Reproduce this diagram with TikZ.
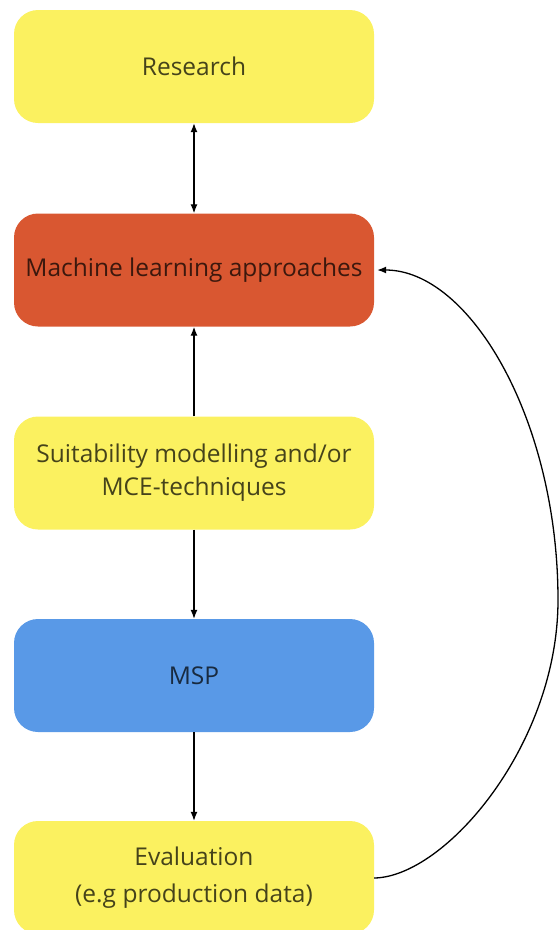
\documentclass[tikz,border=0pt]{standalone}
\usepackage{fontspec}
\setmainfont{Open Sans}
\usetikzlibrary{arrows.meta}
\definecolor{boxyellow}{HTML}{FBF160}
\definecolor{boxred}{HTML}{D95731}
\definecolor{boxblue}{HTML}{5999E7}
\begin{document}
\begin{tikzpicture}[x=1pt,y=-1pt,
  box/.style={rounded corners=24pt, minimum width=360pt, minimum height=113pt,
    inner sep=0pt, align=center, font=\fontsize{24.5}{33}\selectfont,
    text=black, text opacity=0.72},
  conn/.style={line width=1.3pt, -{Latex[length=9pt,width=7pt]}},
  dconn/.style={line width=1.3pt, {Latex[length=9pt,width=7pt]}-{Latex[length=9pt,width=7pt]}}]
\useasboundingbox (0,0) rectangle (560,930);
\node[box, fill=boxyellow] (res) at (194,66.5) {Research};
\node[box, fill=boxred] (ml) at (194,270) {Machine learning approaches};
\node[box, fill=boxyellow] (suit) at (194,473) {Suitability modelling and/or\\MCE-techniques};
\node[box, fill=boxblue] (msp) at (194,675.5) {MSP};
\node[box, fill=boxyellow, font=\fontsize{24.5}{37}\selectfont] (ev) at (194,877.5) {Evaluation\\(e.g production data)};
\coordinate (bend) at (558,600);
\draw[dconn] (res.south) -- (ml.north);
\draw[conn] (suit.north) -- (ml.south);
\draw[conn] (suit.south) -- (msp.north);
\draw[conn] (msp.south) -- (ev.north);
\draw[conn] ([yshift=-0.5pt]ev.east) .. controls (445,877) and (558,745) .. (bend)
  .. controls (558,420) and (470,270) .. ([xshift=3pt]ml.east);
\end{tikzpicture}
\end{document}
